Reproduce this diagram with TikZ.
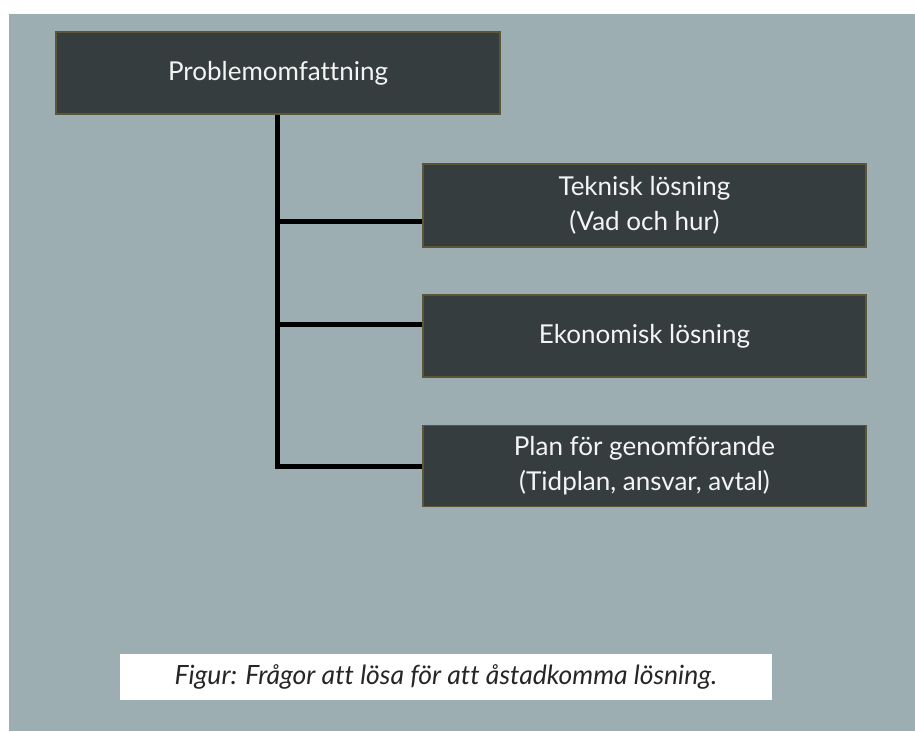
\documentclass[tikz,border=0pt]{standalone}
\usepackage{fontspec}
\setmainfont[Ligatures={NoCommon}]{Lato}
\definecolor{panel}{HTML}{9CAEB2}
\definecolor{boxfill}{HTML}{363D3F}
\definecolor{boxedge}{HTML}{5C5638}
\definecolor{boxtext}{HTML}{F4F4F4}
\tikzset{
  topic/.style={draw=boxedge, line width=1.5pt, fill=boxfill, text=boxtext,
    minimum width=443pt, minimum height=82pt, inner sep=0pt, align=center,
    font=\fontsize{26}{35}\selectfont},
  branch/.style={line width=5pt, black, line join=miter},
  caption/.style={fill=white, minimum width=652pt, minimum height=46pt,
    inner sep=0pt, text=black!85, font=\fontsize{26.5}{30}\selectfont\itshape}
}
\begin{document}
\begin{tikzpicture}[x=1pt, y=-1pt]
  % page and panel
  \fill[white] (0,0) rectangle (915,731);
  \useasboundingbox (0,0) rectangle (915,731);
  \fill[panel] (9,14) rectangle (915,731);

  % boxes
  \node[topic, minimum width=444pt] (top) at (278,73) {Problemomfattning};
  \node[topic, minimum height=83pt] (tek) at (644.5,205.5) {Teknisk lösning\\(Vad och hur)};
  \node[topic] (eko) at (644.5,336) {Ekonomisk lösning};
  \node[topic, minimum height=81pt] (plan) at (644.5,466) {Plan för genomförande\\(Tidplan, ansvar, avtal)};

  % tree connectors
  \coordinate (j1) at (277,221);
  \coordinate (j2) at (277,324);
  \draw[branch] (top.south -| j1) |- (plan.west);
  \draw[branch] (j1) -- (j1 -| tek.west);
  \draw[branch] (j2) -- (j2 -| eko.west);

  % caption
  \node[caption] (cap) at (446,676.5) {Figur: Frågor att lösa för att åstadkomma lösning.};
\end{tikzpicture}
\end{document}
